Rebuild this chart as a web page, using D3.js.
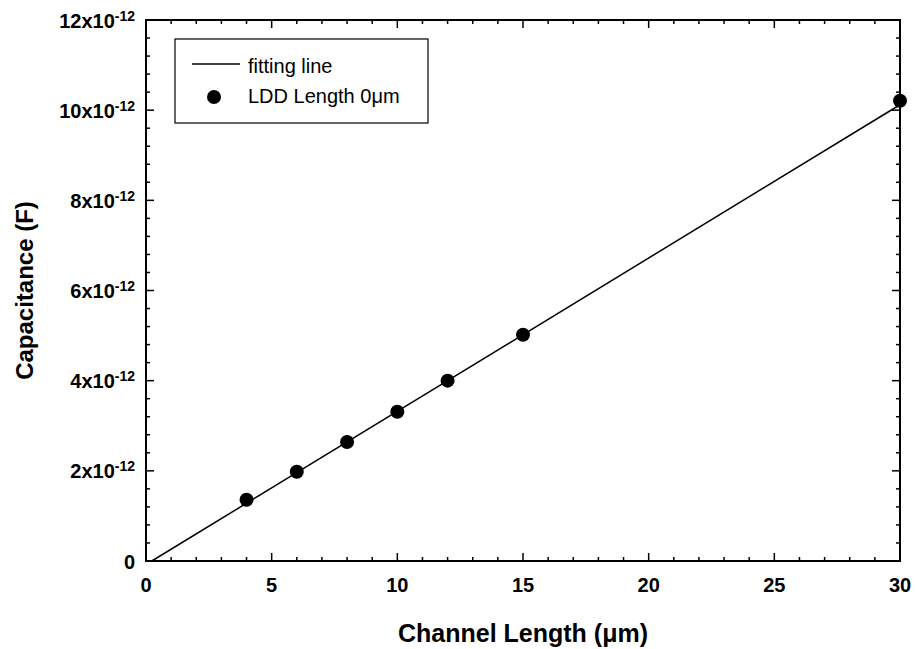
<!DOCTYPE html>
<html>
<head>
<meta charset="utf-8">
<script src="https://cdn.jsdelivr.net/npm/d3@7"></script>
<style>
	body { margin: 0; background: #fff; }
	svg { font-family: Arial, "Liberation Sans", sans-serif; }
	.tick-label { font-size: 20px; font-weight: bold; }
	.axis-title { font-size: 25px; font-weight: bold; }
	.legend-text { font-size: 20px; }
</style>
</head>
<body>
<svg id="chart" width="916" height="649"></svg>
<script>
// measured points (channel length in um, capacitance in F)
const channel_length = [4, 6, 8, 10, 12, 15, 30];
const capacitance = [1.36e-12, 1.98e-12, 2.64e-12, 3.31e-12, 4.0e-12, 5.02e-12, 10.21e-12];

// fitting line end points
const fit_x = [0.23, 30];
const fit_y = [0, 10.12e-12];

const x_ticks = [0, 5, 10, 15, 20, 25, 30];
const y_ticks = [0, 2, 4, 6, 8, 10, 12];

const legend_labels = ['fitting line', 'LDD Length 0\u03bcm'];

const margin = {left: 146, right: 16, top: 20, bottom: 88};
const width = 916, height = 649;

const svg = d3.select('#chart');

const x = d3.scaleLinear().domain([0, 30]).range([margin.left, width - margin.right]);
const y = d3.scaleLinear().domain([0, 12e-12]).range([height - margin.bottom, margin.top]);

const x0 = x.range()[0], x1 = x.range()[1];
const y0 = y.range()[0], y1 = y.range()[1];

// ticks (inside, on all four sides)
const ticks = svg.append('g')
	.attr('stroke', '#000')
	.attr('stroke-width', 1.5);

d3.range(0, 31, 1).forEach(v => {
	const len = v % 5 === 0 ? 8 : 4;
	ticks.append('line').attr('x1', x(v)).attr('x2', x(v)).attr('y1', y0).attr('y2', y0 - len);
	ticks.append('line').attr('x1', x(v)).attr('x2', x(v)).attr('y1', y1).attr('y2', y1 + len);
});

d3.range(0, 31, 1).forEach(i => {
	const v = i * 0.4e-12;
	const len = i % 5 === 0 ? 8 : 4;
	ticks.append('line').attr('x1', x0).attr('x2', x0 + len).attr('y1', y(v)).attr('y2', y(v));
	ticks.append('line').attr('x1', x1).attr('x2', x1 - len).attr('y1', y(v)).attr('y2', y(v));
});

// frame
svg.append('rect')
	.attr('x', x0)
	.attr('y', y1)
	.attr('width', x1 - x0)
	.attr('height', y0 - y1)
	.attr('fill', 'none')
	.attr('stroke', '#000')
	.attr('stroke-width', 2);

// x tick labels
svg.append('g')
	.selectAll('text')
	.data(x_ticks)
	.join('text')
	.attr('class', 'tick-label')
	.attr('x', d => x(d))
	.attr('y', y0 + 31)
	.attr('text-anchor', 'middle')
	.text(d => d);

// y tick labels
const y_labels = svg.append('g')
	.selectAll('text')
	.data(y_ticks)
	.join('text')
	.attr('class', 'tick-label')
	.attr('x', x0 - 11)
	.attr('y', d => y(d * 1e-12) + 7.5)
	.attr('text-anchor', 'end');

y_labels.each(function(d) {
	const t = d3.select(this);
	if (d === 0) {
		t.text('0');
		return;
	}
	t.append('tspan').text(d + 'x10');
	t.append('tspan')
		.attr('dy', -7)
		.attr('font-size', 14)
		.text('-12');
});

// axis titles
svg.append('text')
	.attr('class', 'axis-title')
	.attr('x', (x0 + x1) / 2)
	.attr('y', 642)
	.attr('text-anchor', 'middle')
	.text('Channel Length (\u03bcm)');

svg.append('text')
	.attr('class', 'axis-title')
	.attr('font-size', 24)
	.style('font-size', '24px')
	.attr('transform', `translate(33,${(y0 + y1) / 2}) rotate(-90)`)
	.attr('text-anchor', 'middle')
	.text('Capacitance (F)');

// fitting line
const line = d3.line()
	.x(d => x(d[0]))
	.y(d => y(d[1]));

svg.append('path')
	.attr('d', line(d3.zip(fit_x, fit_y)))
	.attr('fill', 'none')
	.attr('stroke', '#000')
	.attr('stroke-width', 1.5);

// data points
svg.append('g')
	.selectAll('circle')
	.data(d3.zip(channel_length, capacitance))
	.join('circle')
	.attr('cx', d => x(d[0]))
	.attr('cy', d => y(d[1]))
	.attr('r', 7)
	.attr('fill', '#000');

// legend
const legend = svg.append('g').attr('transform', 'translate(175,39)');

legend.append('rect')
	.attr('width', 253)
	.attr('height', 84)
	.attr('fill', '#fff')
	.attr('stroke', '#000')
	.attr('stroke-width', 1.2);

legend.append('line')
	.attr('x1', 17).attr('x2', 65)
	.attr('y1', 25).attr('y2', 25)
	.attr('stroke', '#000')
	.attr('stroke-width', 1.5);

legend.append('circle')
	.attr('cx', 39)
	.attr('cy', 58)
	.attr('r', 7)
	.attr('fill', '#000');

legend.selectAll('text')
	.data(legend_labels)
	.join('text')
	.attr('class', 'legend-text')
	.attr('x', 73)
	.attr('y', (d, i) => 33.5 + i * 30)
	.text(d => d);
</script>
</body>
</html>
